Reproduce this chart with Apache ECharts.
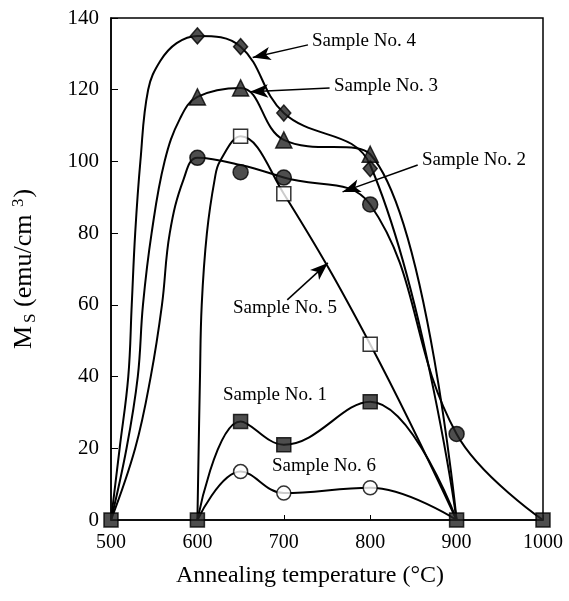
<!DOCTYPE html>
<html>
<head>
<meta charset="utf-8">
<script src="https://cdn.jsdelivr.net/npm/echarts@6/dist/echarts.min.js"></script>
<style>
  html, body { margin: 0; padding: 0; background: #fff; }
  #chart { width: 569px; height: 601px; }
</style>
</head>
<body>
<div id="chart"></div>
<script>
// measured points (markers), [temperature, Ms]
const sample1 = [[650, 27.5], [700, 21], [800, 33]];
const sample2 = [[600, 101], [650, 97], [700, 95.5], [800, 88], [900, 24]];
const sample3 = [[600, 118], [650, 120.5], [700, 106], [800, 102]];
const sample4 = [[600, 135], [650, 132], [700, 113.5], [800, 98]];
const sample5 = [[650, 107], [700, 91], [800, 49]];
const sample6 = [[650, 13.5], [700, 7.5], [800, 9]];
const zeroPoints = [[500, 0], [600, 0], [900, 0], [1000, 0]];

// curves
const curve1 = [[600, 0], [650, 27.5], [700, 21], [800, 33], [900, 0]];
const curve2 = [[500, 0], [528, 20], [546, 40], [559, 60], [568, 80], [584, 95], [600, 101], [650, 99], [700, 95.5], [800, 88], [900, 24], [1000, 0]];
const curve3 = [[500, 0], [518, 20], [531, 40], [537, 60], [547, 80], [562, 100], [580, 112], [600, 118], [650, 120.5], [700, 106], [800, 102], [900, 0]];
const curve4 = [[500, 0], [510, 20], [520, 40], [524, 60], [528, 80], [534, 100], [543, 120], [557, 128], [576, 133], [600, 135], [650, 132], [700, 113.5], [800, 99], [900, 0]];
const curve5 = [[600, 0], [603, 40], [605, 60], [611, 80], [620, 95], [626, 100], [650, 107], [700, 91], [800, 49], [900, 0]];
const curve6 = [[600, 0], [650, 13.5], [700, 7.5], [800, 9], [900, 0]];

// arrows: [from, to] in data coords
const arrows = [
  [[728, 132.5], [664, 129]],
  [[753, 120.5], [661, 119.4]],
  [[855, 99], [768, 91.5]],
  [[704, 61.4], [751, 71.7]]
];

const xTicks = [500, 600, 700, 800, 900, 1000];
const font = 'Liberation Serif, Times New Roman, serif';

const chart = echarts.init(document.getElementById('chart'));

const curveSeries = (data) => ({
  type: 'line',
  data: data,
  smooth: 0.4,
  showSymbol: false,
  lineStyle: { color: '#000', width: 2 },
  z: 2,
  silent: true
});

const markerSeries = (data, symbol, size, fill) => ({
  type: 'scatter',
  data: data,
  symbol: symbol,
  symbolSize: size,
  itemStyle: { color: fill, borderColor: '#000', borderWidth: 1.5 },
  z: 5
});

const label = (text, left, top) => ({
  type: 'text', left: left, top: top,
  style: { text: text, font: '19px ' + font, fill: '#000' }
});

const option = {
  animation: false,
  grid: {
    left: 111, top: 18, right: 26, bottom: 81,
    show: true, borderColor: '#000', borderWidth: 1.5
  },
  xAxis: {
    type: 'value',
    min: 500, max: 1000, interval: 100,
    name: 'Annealing temperature (°C)',
    nameLocation: 'middle',
    nameGap: 44,
    nameTextStyle: { fontFamily: font, fontSize: 24, color: '#000', padding: [0, 34, 0, 0] },
    axisLine: { lineStyle: { color: '#000', width: 1.5 } },
    axisTick: { inside: true, length: 5, lineStyle: { color: '#000' } },
    axisLabel: {
      fontFamily: font, fontSize: 20, color: '#000', margin: 13,
      formatter: (v) => (xTicks.indexOf(v) >= 0 ? String(v) : '')
    },
    splitLine: { show: false }
  },
  yAxis: {
    type: 'value',
    min: 0, max: 140, interval: 20,
    name: '{m|M}{s|S}{m| (emu/cm }{p|3}{m|)}',
    nameLocation: 'middle',
    nameGap: 72,
    nameTextStyle: {
      padding: [0, 0, 0, 0],
      rich: {
        m: { fontFamily: font, fontSize: 26, color: '#000' },
        s: { fontFamily: font, fontSize: 17, color: '#000', padding: [12, 0, 0, 3] },
        p: { fontFamily: font, fontSize: 17, color: '#000', padding: [0, 1, 12, 1] }
      }
    },
    axisLine: { lineStyle: { color: '#000', width: 1.5 } },
    axisTick: { inside: true, length: 7, lineStyle: { color: '#000' } },
    axisLabel: { fontFamily: font, fontSize: 21, color: '#000', margin: 12 },
    splitLine: { show: false }
  },
  series: [
    curveSeries(curve1),
    curveSeries(curve2),
    curveSeries(curve3),
    curveSeries(curve4),
    curveSeries(curve5),
    curveSeries(curve6),
    {
      type: 'line',
      data: [],
      silent: true,
      markLine: {
        silent: true,
        symbol: ['none', 'arrow'],
        symbolSize: [10, 18],
        label: { show: false },
        lineStyle: { color: '#000', width: 1.5, type: 'solid' },
        data: arrows.map((a) => [{ coord: a[0] }, { coord: a[1] }])
      }
    },
    markerSeries(sample4, 'diamond', [14, 16], '#222'),
    markerSeries(sample3, 'triangle', 16, '#222'),
    markerSeries(sample2, 'circle', 15, '#222'),
    markerSeries(sample5, 'rect', 14, '#fff'),
    markerSeries(sample1, 'rect', 14, '#222'),
    markerSeries(sample6, 'circle', 14, '#fff'),
    markerSeries(zeroPoints, 'rect', 14, '#222')
  ],
  graphic: [
    label('Sample No. 4', 312, 32),
    label('Sample No. 3', 334, 77),
    label('Sample No. 2', 422, 151),
    label('Sample No. 5', 233, 299),
    label('Sample No. 1', 223, 386),
    label('Sample No. 6', 272, 457)
  ]
};

chart.setOption(option);
</script>
</body>
</html>
